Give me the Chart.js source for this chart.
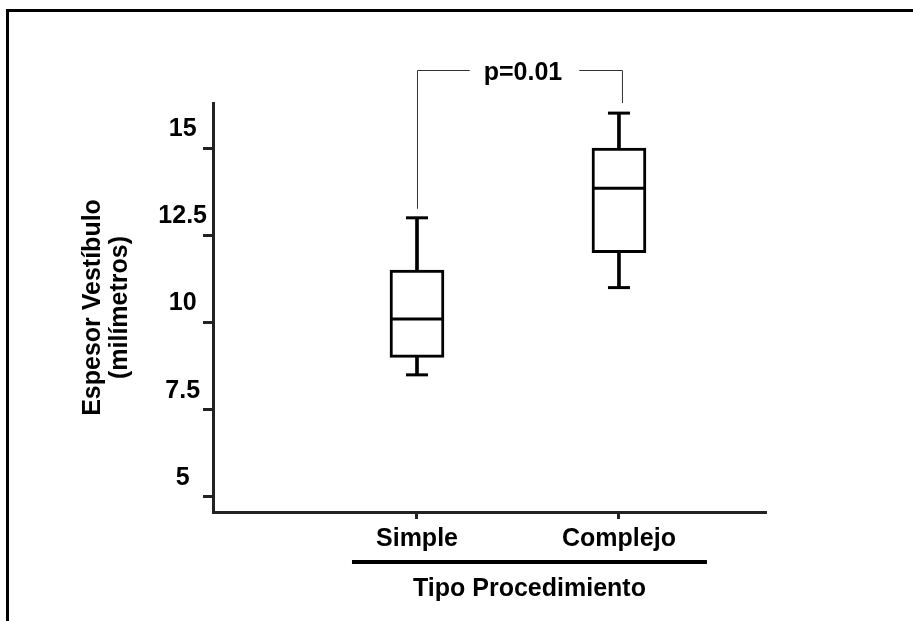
<!DOCTYPE html>
<html>
<head>
<meta charset="utf-8">
<script src="https://cdn.jsdelivr.net/npm/chart.js@4.4.1/dist/chart.umd.min.js"></script>
<style>
  html, body { margin: 0; padding: 0; background: #fff; overflow: hidden; }
  #marco {
    position: absolute; left: 6px; top: 9px;
    width: 1200px; height: 900px;
    border-left: 3px solid #000; border-top: 3px solid #000;
  }
  #grafico { position: absolute; left: 0; top: 0; }
</style>
</head>
<body>
<div id="marco"></div>
<canvas id="grafico" width="913" height="621"></canvas>
<script>
// espesor del vestíbulo por tipo de procedimiento (mm)
const categorias = ['Simple', 'Complejo'];
const minimos = [8.5, 11];
const cuartil1 = [9, 12];
const medianas = [10.1, 13.85];
const cuartil3 = [11.5, 15];
const maximos = [13, 16];
const ticksY = [5, 7.5, 10, 12.5, 15];
const valorP = 'p=0.01';

const fuente = { family: 'Liberation Sans', size: 25, weight: 'bold', lineHeight: 1.1 };
const colorEje = '#222';

function puntos(valores) {
    return valores.map((v, i) => ({ x: i + 1, y: v }));
}
function tramos(desde, hasta) {
    return desde.map((v, i) => ({ x: i + 1, y: [v, hasta[i]] }));
}

// llave del valor p, subrayado y título del eje x
const decoraciones = {
    id: 'decoraciones',
    afterDraw(chart) {
        const { ctx, scales: { x, y } } = chart;
        const xa = x.getPixelForValue(1);
        const xb = x.getPixelForValue(2);
        const yLlave = Math.round(y.getPixelForValue(17.23));

        ctx.save();
        ctx.font = 'bold 25px "Liberation Sans"';
        ctx.fillStyle = '#000';
        ctx.textAlign = 'center';
        ctx.textBaseline = 'middle';

        const cx = (xa + xb) / 2 + 5;
        const ancho = ctx.measureText(valorP).width;
        ctx.fillText(valorP, cx, yLlave + 3);

        ctx.strokeStyle = '#333';
        ctx.lineWidth = 1;
        ctx.beginPath();
        ctx.moveTo(xa + 0.5, y.getPixelForValue(maximos[0]) - 9);
        ctx.lineTo(xa + 0.5, yLlave + 0.5);
        ctx.lineTo(cx - ancho / 2 - 14, yLlave + 0.5);
        ctx.moveTo(cx + ancho / 2 + 17, yLlave + 0.5);
        ctx.lineTo(xb + 3.5, yLlave + 0.5);
        ctx.lineTo(xb + 3.5, y.getPixelForValue(maximos[1]) - 10);
        ctx.stroke();

        // línea bajo las categorías
        const x1 = xa - 65, x2 = xb + 88;
        ctx.strokeStyle = '#000';
        ctx.lineWidth = 4;
        ctx.beginPath();
        ctx.moveTo(x1, 562);
        ctx.lineTo(x2, 562);
        ctx.stroke();

        ctx.fillText('Tipo Procedimiento', (x1 + x2) / 2, 589);
        ctx.restore();
    }
};

new Chart(document.getElementById('grafico'), {
    type: 'bar',
    data: {
        datasets: [
            {
                label: 'caja',
                data: tramos(cuartil1, cuartil3),
                backgroundColor: '#fff',
                borderColor: '#000',
                borderWidth: 3,
                borderSkipped: false,
                barThickness: 54,
                grouped: false,
                order: 2
            },
            {
                label: 'bigote superior',
                data: tramos(cuartil3, maximos),
                backgroundColor: '#000',
                borderWidth: 0,
                barThickness: 3,
                grouped: false,
                order: 3
            },
            {
                label: 'bigote inferior',
                data: tramos(minimos, cuartil1),
                backgroundColor: '#000',
                borderWidth: 0,
                barThickness: 3,
                grouped: false,
                order: 3
            },
            {
                type: 'scatter',
                label: 'extremos',
                data: puntos(maximos).concat(puntos(minimos)),
                pointStyle: 'line',
                pointRadius: 11,
                pointBorderWidth: 3,
                pointBorderColor: '#000',
                order: 1
            },
            {
                type: 'scatter',
                label: 'mediana',
                data: puntos(medianas),
                pointStyle: 'line',
                pointRadius: 26,
                pointBorderWidth: 3,
                pointBorderColor: '#000',
                order: 0
            }
        ]
    },
    options: {
        responsive: false,
        animation: false,
        layout: { padding: { top: 103, right: 147, left: 0, bottom: 0 } },
        plugins: {
            legend: { display: false },
            tooltip: { enabled: false }
        },
        scales: {
            x: {
                type: 'linear',
                min: -0.01,
                max: 2.728,
                offset: false,
                afterBuildTicks: (scale) => {
                    scale.ticks = categorias.map((c, i) => ({ value: i + 1 }));
                },
                afterFit: (scale) => { scale.height = 109; },
                ticks: {
                    callback: (v, i) => categorias[i],
                    font: fuente,
                    color: '#000',
                    padding: 6,
                    maxRotation: 0,
                    autoSkip: false
                },
                grid: {
                    offset: false,
                    drawOnChartArea: false,
                    tickLength: 7,
                    tickWidth: 3,
                    tickColor: colorEje
                },
                border: { display: true, width: 3, color: colorEje }
            },
            y: {
                type: 'linear',
                min: 4.57,
                max: 16.29,
                afterBuildTicks: (scale) => {
                    scale.ticks = ticksY.map(v => ({ value: v }));
                },
                afterFit: (scale) => { scale.width = 213; },
                ticks: {
                    callback: (v) => String(v),
                    font: fuente,
                    color: '#000',
                    crossAlign: 'center',
                    padding: -4,
                    labelOffset: -19
                },
                grid: {
                    drawOnChartArea: false,
                    tickLength: 10,
                    tickWidth: 3,
                    tickColor: colorEje
                },
                border: { display: true, width: 3, color: colorEje },
                title: {
                    display: true,
                    text: ['Espesor Vestíbulo', '(milímetros)'],
                    font: fuente,
                    color: '#000',
                    padding: { top: 79, bottom: 0 }
                }
            }
        }
    },
    plugins: [decoraciones]
});
</script>
</body>
</html>
